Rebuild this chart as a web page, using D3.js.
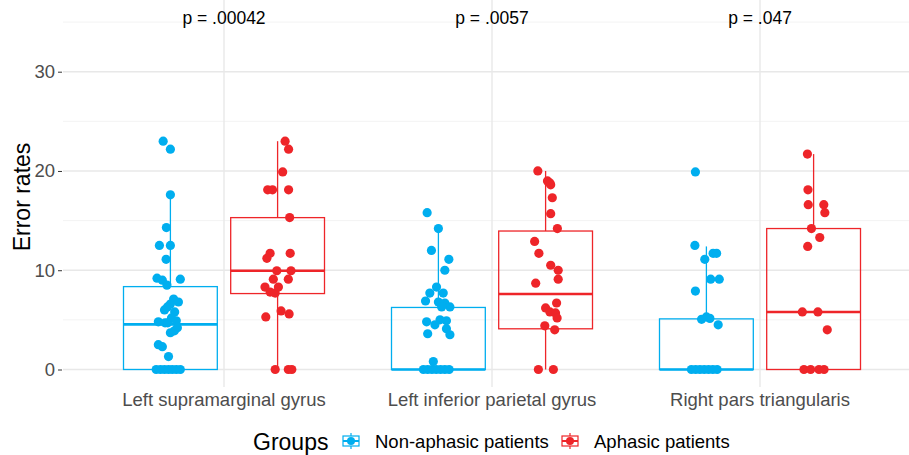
<!DOCTYPE html>
<html>
<head>
<meta charset="utf-8">
<script src="https://cdn.jsdelivr.net/npm/d3@7"></script>
<style>
  body { margin: 0; background: #fff; }
  svg { font-family: "Liberation Sans", Arial, Helvetica, sans-serif; }
</style>
</head>
<body>
<svg width="909" height="455"></svg>
<script>
// regions on the x axis
var regions = ["Left supramarginal gyrus", "Left inferior parietal gyrus", "Right pars triangularis"];
var pvalues = ["p = .00042", "p = .0057", "p = .047"];
var groups = ["Non-aphasic patients", "Aphasic patients"];
var groupColors = ["#00aeef", "#ee2529"];
var yTicks = [0, 10, 20, 30];

// box stats: [low whisker, q1, median, q3, high whisker]
var boxNonAphasic = [
  [0, 0, 4.55, 8.35, 17.6],
  [0, 0, 0, 6.25, 14.2],
  [0, 0, 0, 5.1, 12.4]
];
var boxAphasic = [
  [0, 7.65, 9.95, 15.3, 23.0],
  [0, 4.1, 7.6, 13.95, 20.0],
  [0, 0, 5.8, 14.2, 21.7]
];

// points: [error rate, horizontal jitter (share of region spacing)]
var ptsNonAph1 = [[23.0,-0.027],[22.2,0],[17.6,0],[14.3,-0.015],[12.5,-0.041],[12.5,0],[11.1,-0.016],
  [9.2,-0.05],[9.0,-0.03],[8.5,-0.013],[9.1,0.037],[7.1,0.012],[6.8,0.03],[6.6,0],[6.3,-0.011],[6.0,-0.022],
  [5.8,0.016],[5.2,0.004],[4.8,-0.045],[4.7,-0.02],[4.7,-0.01],[4.9,0.022],[4.2,0.026],[3.7,0],[3.9,0.015],
  [2.5,-0.045],[2.3,-0.03],[1.3,-0.007],[0,-0.053],[0,-0.037],[0,-0.022],[0,-0.007],[0,0.007],[0,0.022],[0,0.037]];
var ptsAph1 = [[23.0,0.028],[22.2,0.041],[19.9,0.019],[18.1,-0.037],[18.1,-0.019],[18.1,0.041],[15.3,0.045],
  [11.7,-0.028],[11.2,-0.04],[11.7,0.047],[9.95,-0.003],[9.95,0.05],[9.1,-0.016],[9.1,0.04],
  [8.3,-0.047],[7.8,-0.028],[7.7,-0.009],[8.3,0.003],[5.9,0.013],[5.6,0.043],[5.3,-0.044],
  [0,-0.009],[0,0.04],[0,0.053]];
var ptsNonAph2 = [[15.8,-0.042],[14.2,0],[12.0,-0.026],[11.1,0.039],[10.0,0.024],[8.3,-0.007],[7.7,-0.032],
  [7.7,0.018],[6.9,-0.048],[6.8,0],[6.7,0.024],[6.3,0.043],[6.3,0.012],[4.8,-0.044],[5.0,0.006],[4.9,0.03],
  [4.5,-0.013],[3.6,-0.04],[3.5,0.043],[4.1,0.03],[0.8,-0.019],[0,-0.056],[0,-0.04],[0,-0.024],[0,-0.008],
  [0,0.008],[0,0.024],[0,0.04]];
var ptsAph2 = [[20.0,-0.029],[19.0,0.007],[18.8,0.016],[18.6,0.019],[17.3,0.025],[15.7,0.019],[14.2,0.044],
  [12.9,-0.041],[11.7,-0.025],[10.5,0.019],[10.0,0.047],[9.1,0.047],[8.7,-0.037],[6.7,0.041],[6.2,0],
  [5.8,0.016],[5.7,0.037],[5.2,0.043],[4.4,-0.003],[4.0,0.034],[0,-0.027],[0,0.029]];
var ptsNonAph3 = [[19.9,-0.041],[12.5,-0.043],[11.7,0.025],[11.7,0.038],[11.1,-0.006],[9.1,0.016],[9.1,0.048],
  [7.9,-0.041],[5.05,-0.018],[5.3,0],[5.15,0.013],[4.5,0.044],[0,-0.056],[0,-0.04],[0,-0.024],[0,-0.008],
  [0,0.008],[0,0.024],[0,0.04]];
var ptsAph3 = [[21.7,-0.023],[18.1,-0.021],[16.6,-0.02],[16.6,0.038],[15.8,0.042],[14.2,-0.008],[13.3,0.023],
  [12.4,-0.022],[5.8,-0.042],[5.8,0.016],[4.0,0.051],[0,-0.036],[0,-0.011],[0,0.02],[0,0.039]];

var boxes = [boxNonAphasic, boxAphasic];
var points = [[ptsNonAph1, ptsNonAph2, ptsNonAph3], [ptsAph1, ptsAph2, ptsAph3]];

var svg = d3.select("svg");
var panelLeft = 63, panelRight = 909, panelTop = 0, panelBottom = 387;

var x = d3.scaleLinear().domain([1, 3]).range([224, 760]);
var y = d3.scaleLinear().domain([0, 30]).range([369.5, 71.7]);
var dodge = [-0.2, 0.2], boxW = 0.35;

var grid = svg.append("g");
// minor grid
grid.selectAll("line.minor").data([5, 15, 25, 35]).enter().append("line")
  .attr("x1", panelLeft).attr("x2", panelRight)
  .attr("y1", function(d) { return y(d); }).attr("y2", function(d) { return y(d); })
  .attr("stroke", "#f3f3f3").attr("stroke-width", 1);
grid.selectAll("line.major").data(yTicks).enter().append("line")
  .attr("x1", panelLeft).attr("x2", panelRight)
  .attr("y1", function(d) { return y(d); }).attr("y2", function(d) { return y(d); })
  .attr("stroke", "#e8e8e8").attr("stroke-width", 1.4);
grid.selectAll("line.vert").data(regions).enter().append("line")
  .attr("x1", function(d, i) { return x(i + 1); }).attr("x2", function(d, i) { return x(i + 1); })
  .attr("y1", panelTop).attr("y2", panelBottom)
  .attr("stroke", "#e8e8e8").attr("stroke-width", 1.4);

// y axis
var yAxis = svg.append("g").attr("transform", "translate(" + (panelLeft - 1) + ",0)")
  .call(d3.axisLeft(y).tickValues(yTicks).tickSize(4).tickPadding(3));
yAxis.select(".domain").remove();
yAxis.selectAll(".tick line").attr("stroke", "#333");
yAxis.selectAll("text").attr("fill", "#4d4d4d").style("font-size", "18.5px");

// x labels
svg.selectAll("text.xlab").data(regions).enter().append("text")
  .attr("x", function(d, i) { return x(i + 1); }).attr("y", 406)
  .attr("text-anchor", "middle").attr("fill", "#4d4d4d").style("font-size", "18.5px")
  .text(function(d) { return d; });

svg.append("text").attr("transform", "translate(30,197) rotate(-90)")
  .attr("text-anchor", "middle").style("font-size", "23px").attr("fill", "#000")
  .text("Error rates");

// boxes
groups.forEach(function(g, gi) {
  var col = groupColors[gi];
  var gg = svg.append("g");
  boxes[gi].forEach(function(b, ri) {
    var cx = x(ri + 1 + dodge[gi]);
    var hw = (x(1 + boxW) - x(1)) / 2;
    gg.append("line").attr("x1", cx).attr("x2", cx).attr("y1", y(b[3])).attr("y2", y(b[4]))
      .attr("stroke", col).attr("stroke-width", 1.3);
    gg.append("line").attr("x1", cx).attr("x2", cx).attr("y1", y(b[0])).attr("y2", y(b[1]))
      .attr("stroke", col).attr("stroke-width", 1.3);
    gg.append("rect").attr("x", cx - hw).attr("width", 2 * hw)
      .attr("y", y(b[3])).attr("height", y(b[1]) - y(b[3]))
      .attr("fill", "none").attr("stroke", col).attr("stroke-width", 1.3);
    gg.append("line").attr("x1", cx - hw).attr("x2", cx + hw).attr("y1", y(b[2])).attr("y2", y(b[2]))
      .attr("stroke", col).attr("stroke-width", 2.6);
  });
});

// jittered points
groups.forEach(function(g, gi) {
  points[gi].forEach(function(pts, ri) {
    svg.append("g").selectAll("circle").data(pts).enter().append("circle")
      .attr("cx", function(d) { return x(ri + 1 + dodge[gi] + d[1]); })
      .attr("cy", function(d) { return y(d[0]); })
      .attr("r", 4.6).attr("fill", groupColors[gi]);
  });
});

// p-values
svg.selectAll("text.pval").data(pvalues).enter().append("text")
  .attr("x", function(d, i) { return x(i + 1); }).attr("y", 24)
  .attr("text-anchor", "middle").style("font-size", "17.5px").attr("fill", "#000")
  .text(function(d) { return d; });

// legend
var leg = svg.append("g");
leg.append("text").attr("x", 253).attr("y", 450).style("font-size", "23px").text("Groups");
var keyX = [351, 570], labX = [375, 594];
groups.forEach(function(g, gi) {
  var col = groupColors[gi];
  var k = leg.append("g").attr("transform", "translate(" + keyX[gi] + ",441)");
  k.append("line").attr("y1", -8).attr("y2", 8).attr("stroke", col).attr("stroke-width", 1.2);
  k.append("rect").attr("x", -8).attr("y", -5).attr("width", 16).attr("height", 10)
    .attr("fill", "#fff").attr("stroke", col).attr("stroke-width", 1.2);
  k.append("line").attr("x1", -8).attr("x2", 8).attr("stroke", col).attr("stroke-width", 2);
  k.append("circle").attr("r", 4).attr("fill", col);
  leg.append("text").attr("x", labX[gi]).attr("y", 448).style("font-size", "18.5px").text(g);
});
</script>
</body>
</html>
